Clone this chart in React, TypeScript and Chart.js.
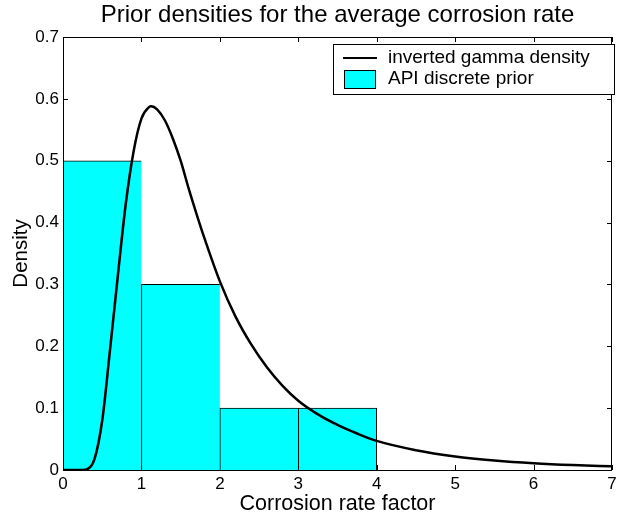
import React, { useEffect, useRef } from 'react';
import { Chart, registerables } from 'chart.js';

Chart.register(...registerables);

// ---- data ----
const binCenters = [0.5, 1.5, 2.5, 3.5];
const binHeights = [0.5, 0.3, 0.1, 0.1];

const curveX = [0, 0.2, 0.3, 0.4, 0.5, 0.6, 0.7, 0.8, 0.9, 1.0, 1.1, 1.125, 1.2, 1.3, 1.4, 1.5, 1.6, 1.7, 1.8, 2.0, 2.2, 2.4, 2.6, 2.8, 3.0, 3.25, 3.5, 3.75, 4.0, 4.5, 5.0, 5.5, 6.0, 6.5, 7.0];
const curveY = [0, 0, 0.001, 0.017, 0.08, 0.195, 0.315, 0.43, 0.515, 0.568, 0.587, 0.588, 0.583, 0.565, 0.536, 0.5, 0.456, 0.415, 0.376, 0.305, 0.248, 0.203, 0.166, 0.136, 0.112, 0.09, 0.073, 0.059, 0.047, 0.032, 0.022, 0.0155, 0.011, 0.008, 0.006];

const xTicks = [0, 1, 2, 3, 4, 5, 6, 7];
const xTickLabels = ['0', '1', '2', '3', '4', '5', '6', '7'];
const yTicks = [0, 0.1, 0.2, 0.3, 0.4, 0.5, 0.6, 0.7];
const yTickLabels = ['0', '0.1', '0.2', '0.3', '0.4', '0.5', '0.6', '0.7'];

const titleText = 'Prior densities for the average corrosion rate';
const xLabel = 'Corrosion rate factor';
const yLabel = 'Density';
const legendLabels = ['inverted gamma density', 'API discrete prior'];

const FAMILY = "'Liberation Sans', Arial, Helvetica, sans-serif";
const CYAN = '#00ffff';

const ticksPlugin = {
  id: 'inwardTicks',
  beforeDatasetsDraw(chart: any) {
    const { ctx, chartArea: a, scales } = chart;
    const len = 5;
    ctx.save();
    ctx.strokeStyle = '#000';
    ctx.lineWidth = 1;
    ctx.beginPath();
    xTicks.forEach((v) => {
      const px = Math.round(scales.x.getPixelForValue(v)) + 0.5;
      ctx.moveTo(px, a.bottom);
      ctx.lineTo(px, a.bottom - len);
      ctx.moveTo(px, a.top);
      ctx.lineTo(px, a.top + len);
    });
    yTicks.forEach((v) => {
      const py = Math.round(scales.y.getPixelForValue(v)) + 0.5;
      ctx.moveTo(a.left, py);
      ctx.lineTo(a.left + len, py);
      ctx.moveTo(a.right, py);
      ctx.lineTo(a.right - len, py);
    });
    ctx.stroke();
    ctx.restore();
  },
};

const boxPlugin = {
  id: 'axesBox',
  afterDatasetsDraw(chart: any) {
    const { ctx, chartArea: a } = chart;
    ctx.save();
    ctx.strokeStyle = '#000';
    ctx.lineWidth = 1;
    ctx.strokeRect(a.left + 0.5, a.top + 0.5, a.right - a.left - 1, a.bottom - a.top);
    ctx.restore();
  },
};

const legendPlugin = {
  id: 'boxLegend',
  afterDraw(chart: any) {
    const { ctx, chartArea: a } = chart;
    const w = 281;
    const h = 50;
    const x0 = Math.round(a.right + 2 - w);
    const y0 = Math.round(a.top + 7);
    ctx.save();
    ctx.fillStyle = '#fff';
    ctx.fillRect(x0, y0, w, h);
    ctx.strokeStyle = '#000';
    ctx.lineWidth = 1;
    ctx.strokeRect(x0 + 0.5, y0 + 0.5, w, h);
    // line sample
    ctx.lineWidth = 2;
    ctx.beginPath();
    ctx.moveTo(x0 + 10, y0 + 14);
    ctx.lineTo(x0 + 44, y0 + 14);
    ctx.stroke();
    // patch sample
    ctx.fillStyle = CYAN;
    ctx.fillRect(x0 + 11, y0 + 26, 31, 18);
    ctx.lineWidth = 1;
    ctx.strokeRect(x0 + 11.5, y0 + 26.5, 31, 18);
    // texts
    ctx.fillStyle = '#000';
    ctx.font = `19px ${FAMILY}`;
    ctx.textAlign = 'left';
    ctx.textBaseline = 'middle';
    ctx.fillText(legendLabels[0], x0 + 55, y0 + 14);
    ctx.fillText(legendLabels[1], x0 + 55, y0 + 35);
    ctx.restore();
  },
};

export default function App() {
  const ref = useRef<HTMLCanvasElement>(null);

  useEffect(() => {
    const lastBar = binCenters.length - 1;
    const chart = new Chart(ref.current as HTMLCanvasElement, {
      type: 'bar',
      data: {
        datasets: [
          {
            type: 'line',
            label: legendLabels[0],
            data: curveX.map((x, i) => ({ x, y: curveY[i] })),
            borderColor: '#000',
            borderWidth: 2.5,
            pointRadius: 0,
            fill: false,
            cubicInterpolationMode: 'monotone',
            order: 0,
          } as any,
          {
            type: 'bar',
            label: legendLabels[1],
            data: binCenters.map((x, i) => ({ x, y: binHeights[i] })),
            backgroundColor: CYAN,
            borderColor: '#000',
            borderWidth: (c: any) => ({ top: 1, left: 1, right: c.dataIndex === lastBar ? 1 : 0, bottom: 0 }),
            borderSkipped: false,
            barPercentage: 1,
            categoryPercentage: 1,
            order: 1,
          } as any,
        ],
      },
      options: {
        animation: false,
        responsive: false,
        devicePixelRatio: 1,
        layout: { padding: { left: 0, right: 25, top: 0, bottom: 0 } },
        plugins: {
          legend: { display: false },
          tooltip: { enabled: false },
          title: {
            display: true,
            text: titleText,
            color: '#000',
            fullSize: false,
            font: { family: FAMILY, size: 24, weight: 'normal' },
            padding: { top: 0.5, bottom: 7.7 },
          },
        },
        scales: {
          x: {
            type: 'linear',
            min: 0,
            max: 7,
            offset: false,
            grid: { display: false, drawTicks: false },
            border: { display: false },
            ticks: {
              color: '#000',
              font: { family: FAMILY, size: 17 },
              padding: 4,
              maxRotation: 0,
              autoSkip: false,
              callback: (_v: any, i: number) => xTickLabels[i],
            },
            afterBuildTicks: (s: any) => {
              s.ticks = xTicks.map((v) => ({ value: v }));
            },
            afterFit: (s: any) => {
              s.height = 50;
            },
            title: {
              display: true,
              text: xLabel,
              color: '#000',
              font: { family: FAMILY, size: 21.5 },
              padding: { top: 0, bottom: 3 },
            },
          },
          y: {
            type: 'linear',
            min: 0,
            max: 0.7,
            grid: { display: false, drawTicks: false },
            border: { display: false },
            ticks: {
              color: '#000',
              font: { family: FAMILY, size: 17 },
              padding: 4,
              autoSkip: false,
              callback: (_v: any, i: number) => yTickLabels[i],
            },
            afterBuildTicks: (s: any) => {
              s.ticks = yTicks.map((v) => ({ value: v }));
            },
            afterFit: (s: any) => {
              s.width = 63;
            },
            title: {
              display: true,
              text: yLabel,
              color: '#000',
              font: { family: FAMILY, size: 20.5 },
              padding: { top: 9, bottom: 0 },
            },
          },
        },
      } as any,
      plugins: [ticksPlugin, boxPlugin, legendPlugin],
    });
    return () => chart.destroy();
  }, []);

  return (
    <div style={{ position: 'fixed', left: 0, top: 0, width: 637, height: 520, background: '#fff' }}>
      <canvas ref={ref} width={637} height={520} style={{ display: 'block', width: 637, height: 520 }} />
    </div>
  );
}
